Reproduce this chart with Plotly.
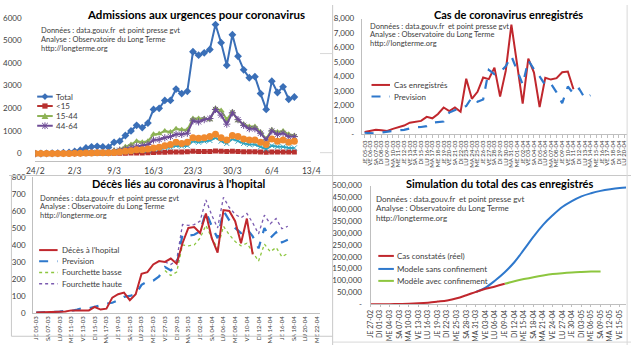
import pandas as pd
import plotly.graph_objects as go

W, H = 640, 350
FONT = "Lato"

def X(px):
    return px / W

def Y(py):
    return 1 - py / H

# ---------------- Data ----------------
# Top-left: Admissions aux urgences (Feb 24 - Apr 10)
tl_dates = pd.date_range("2020-02-24", "2020-04-10").strftime("%Y-%m-%d").tolist()
tl_total = [0, 5, 10, 15, 25, 40,
            50, 100, 150, 250, 300, 320, 300, 280, 500, 550, 800, 1000, 1250, 1150, 1350,
            1950, 2000, 2350, 2350, 2850, 2650, 2750, 4500, 4350, 4450, 4600, 5700, 4900,
            3900, 5250, 4300,
            3700, 3350, 3400, 2650, 1950, 3200, 2700, 2950, 2400, 2500]
tl_u15 = [0, 0, 0, 0, 0, 0,
          0, 5, 5, 5, 10, 10, 10, 10, 15, 15, 20, 25, 30, 30, 35, 50, 55, 60, 65, 75, 75, 80,
          100, 95, 95, 95, 110, 100, 90, 100, 95,
          85, 80, 80, 70, 60, 75, 70, 75, 65, 70]
tl_15_44 = [0, 0, 2, 3, 5, 8,
            10, 20, 30, 50, 60, 70, 70, 65, 150, 180, 300, 400, 550, 500, 550,
            850, 880, 1000, 950, 1100, 1050, 1050, 1550, 1550, 1550, 1500, 2000, 1900, 1500, 1850, 1450,
            1300, 1200, 1200, 950, 650, 1050, 950, 1000, 850, 800]
tl_44_64 = [0, 0, 1, 2, 3, 5,
            8, 15, 20, 35, 45, 50, 50, 45, 100, 150, 200, 280, 330, 350, 400,
            600, 620, 700, 750, 850, 850, 900, 1450, 1400, 1500, 1550, 1950, 1700, 1300, 1800, 1500,
            1250, 1100, 1100, 900, 600, 1000, 850, 900, 750, 750]
tl_65_74 = [0, 0, 0, 1, 2, 3,
            5, 8, 10, 15, 20, 25, 25, 25, 40, 55, 80, 100, 130, 130, 150,
            200, 210, 260, 280, 350, 330, 350, 550, 500, 550, 580, 700, 550, 450, 650, 550,
            450, 400, 400, 300, 200, 350, 300, 300, 250, 250]
tl_75p = [0, 0, 1, 2, 3, 5,
          8, 12, 15, 25, 30, 35, 35, 35, 50, 70, 100, 130, 170, 170, 200,
          250, 280, 350, 400, 500, 450, 500, 700, 680, 700, 750, 850, 700, 600, 800, 750,
          650, 600, 600, 500, 400, 650, 550, 600, 500, 550]

FR_DAYS = ["LU", "MA", "ME", "JE", "VE", "SA", "DI"]

def fr_labels(start, end):
    return [FR_DAYS[d.weekday()] + " " + d.strftime("%d-%m") for d in pd.date_range(start, end)]

# Top-right: Cas enregistrés (categories Mar 5 - Apr 20)
tr_categories = fr_labels("2020-03-05", "2020-04-20")
tr_cases = [150, 250, 300, 280, 230, 370, 500, 600, 800, 850, 920, 1200, 1100, 1400, 1850,
            1600, 1850, 1550, 3840, 2450, 2930, 3920, 3810, 4610, 2600, 4380, 7580,
            4860, 2120, 5230, 4270, 1870, 3910, 3780, 3880, 4290, 4340, 3110]
tr_prev = [100, 60, 50, 120, 200, 230, 270, 300, 400, 480, 500, 560, 800, 860, 880,
           1500, 1700, 1850, 1950, 2550, 2250, 2400, 4450, 4150, 4300, 4700, 5400,
           4400, 3450, 5100, 4500, 4000, 3400, 3500, 2900, 2150, 3300, 2800, 3150, 2500, 2700]
tr_yticks = [0, 1000, 2000, 3000, 4000, 5000, 6000, 7000, 8000]
tr_yticktext = ["-", "1,000", "2,000", "3,000", "4,000", "5,000", "6,000", "7,000", "8,000"]

# Bottom-left: Décès (categories Mar 5 - Apr 22)
bl_categories = fr_labels("2020-03-05", "2020-04-22")
bl_deaths = [2, 3, 5, 5, 8, 8, 15, 15, 15, 15, 35, 20, 25, 90, 110, 120, 75, 110, 230, 240,
             285, 305, 300, 320, 290, 410, 500,
             505, 470, 585, 440, 355, 605, 600, 540, 410, 555, 345]
bl_prev = [2, 3, 5, 5, 8, 12, 12, 20, 30, 28, 35, 45, 55, 60, 75, 95, 100, 110, 165, 185,
           190, 215, 270, 250, 280, 460, 455,
           460, 480, 595, 510, 440, 600, 545, 500, 470, 495, 450, 380, 500, 440, 475, 415, 430]
bl_low = [250, 220, 240, 400, 395,
          400, 440, 515, 440, 380, 510, 460, 420, 395, 410, 360, 305, 405, 360, 385, 330, 350]
bl_high = [300, 285, 310, 520, 515,
           520, 540, 665, 575, 500, 680, 620, 580, 560, 585, 530, 465, 575, 525, 555, 495, 510]
bl_band_start = 22  # index of VE 27-03

# Bottom-right: Simulation
br_real_dates = ["2020-02-27", "2020-03-01", "2020-03-04", "2020-03-07", "2020-03-10",
                 "2020-03-13", "2020-03-16", "2020-03-19", "2020-03-22", "2020-03-25",
                 "2020-03-28", "2020-03-31", "2020-04-03", "2020-04-06", "2020-04-09"]
br_real = [40, 130, 290, 950, 1800, 3700, 6600, 11000, 16000, 25000, 38000, 52000, 65000,
           75000, 86000]
br_sans_dates = ["2020-03-31", "2020-04-03", "2020-04-06", "2020-04-09", "2020-04-12",
                 "2020-04-15", "2020-04-18", "2020-04-21", "2020-04-24", "2020-04-27",
                 "2020-04-30", "2020-05-03", "2020-05-06", "2020-05-09", "2020-05-12",
                 "2020-05-15", "2020-05-17"]
br_sans = [52000, 70000, 100000, 135000, 177000, 230000, 285000, 335000, 375000, 410000,
           435000, 455000, 468000, 478000, 485000, 490000, 492000]
br_avec_dates = ["2020-04-09", "2020-04-12", "2020-04-15", "2020-04-18", "2020-04-21",
                 "2020-04-24", "2020-04-27", "2020-04-30", "2020-05-03", "2020-05-06",
                 "2020-05-09"]
br_avec = [86000, 97000, 106000, 114000, 121000, 127000, 131000, 134000, 136000, 137500, 138500]
br_tickdates = pd.date_range("2020-02-27", "2020-05-15", freq="3D")
br_ticktext = ["JE 27-02", "DI 01-03", "ME 04-03", "SA 07-03", "MA 10-03", "VE 13-03",
               "LU 16-03", "JE 19-03", "DI 22-03", "ME 25-03", "SA 28-03", "MA 31-03",
               "VE 03-04", "LU 06-04", "JE 09-04", "DI 12-04", "ME 15-04", "SA 18-04",
               "MA 21-04", "VE 24-04", "LU 27-04", "JE 30-04", "DI 03-05", "ME 06-05",
               "SA 09-05", "MA 12-05", "VE 15-05"]
br_yticks = list(range(0, 500001, 50000))
br_yticktext = ["-"] + [f"{v:,}" for v in br_yticks[1:]]

# ---------------- Colours ----------------
C_BLUE = "#3A6FB7"
C_RED = "#B8312F"
C_GREEN = "#8DB255"
C_PURPLE = "#6E4C96"
C_AQUA = "#2FA3C0"
C_ORANGE = "#F08A2E"
C_LRED = "#C0272D"
C_LBLUE = "#2E78CC"
C_LGREEN = "#8DC63F"
C_LPURPLE = "#7B5BB0"

fig = go.Figure()

# Top-left traces
def tl_trace(y, color, symbol, size, name, open_marker=False):
    mk = dict(symbol=symbol, size=size, color=color)
    if open_marker:
        mk["line"] = dict(color=color, width=1)
    fig.add_trace(go.Scatter(x=tl_dates, y=y, mode="lines+markers", name=name,
                             line=dict(color=color, width=2), marker=mk,
                             xaxis="x", yaxis="y", showlegend=False))

tl_trace(tl_total, C_BLUE, "diamond", 6, "Total")
tl_trace(tl_u15, C_RED, "square", 5, "<15")
tl_trace(tl_15_44, C_GREEN, "triangle-up", 6, "15-44")
tl_trace(tl_44_64, C_PURPLE, "asterisk-open", 6, "44-64", open_marker=True)
tl_trace(tl_65_74, C_AQUA, "x-thin-open", 5, "65-74", open_marker=True)
tl_trace(tl_75p, C_ORANGE, "circle", 7, "75+")

# Top-right traces
fig.add_trace(go.Scatter(x=tr_categories[:len(tr_cases)], y=tr_cases, mode="lines",
                         name="Cas enregistrés", line=dict(color=C_LRED, width=2),
                         xaxis="x2", yaxis="y2", showlegend=False))
fig.add_trace(go.Scatter(x=tr_categories[:len(tr_prev)], y=tr_prev, mode="lines",
                         name="Prevision", line=dict(color=C_LBLUE, width=2.2, dash="dash"),
                         xaxis="x2", yaxis="y2", showlegend=False))

# Bottom-left traces
fig.add_trace(go.Scatter(x=bl_categories[bl_band_start:bl_band_start + len(bl_low)], y=bl_low,
                         mode="lines", name="Fourchette basse",
                         line=dict(color=C_LGREEN, width=1.3, dash="dot"),
                         xaxis="x3", yaxis="y3", showlegend=False))
fig.add_trace(go.Scatter(x=bl_categories[bl_band_start:bl_band_start + len(bl_high)], y=bl_high,
                         mode="lines", name="Fourchette haute",
                         line=dict(color=C_LPURPLE, width=1.3, dash="dot"),
                         xaxis="x3", yaxis="y3", showlegend=False))
fig.add_trace(go.Scatter(x=bl_categories[:len(bl_prev)], y=bl_prev, mode="lines",
                         name="Prevision", line=dict(color=C_LBLUE, width=2.2, dash="dash"),
                         xaxis="x3", yaxis="y3", showlegend=False))
fig.add_trace(go.Scatter(x=bl_categories[:len(bl_deaths)], y=bl_deaths, mode="lines",
                         name="Décès à l'hopital", line=dict(color=C_LRED, width=2),
                         xaxis="x3", yaxis="y3", showlegend=False))

# Bottom-right traces
fig.add_trace(go.Scatter(x=br_sans_dates, y=br_sans, mode="lines", line_shape="spline",
                         name="Modele sans confinement", line=dict(color=C_LBLUE, width=2),
                         xaxis="x4", yaxis="y4", showlegend=False))
fig.add_trace(go.Scatter(x=br_avec_dates, y=br_avec, mode="lines", line_shape="spline",
                         name="Modèle avec confinement", line=dict(color=C_LGREEN, width=2),
                         xaxis="x4", yaxis="y4", showlegend=False))
fig.add_trace(go.Scatter(x=br_real_dates, y=br_real, mode="lines", line_shape="spline",
                         name="Cas constatés (réel)", line=dict(color=C_LRED, width=2),
                         xaxis="x4", yaxis="y4", showlegend=False))

AX_LINE = "#BFBFBF"
TICKFONT = dict(family=FONT, size=8, color="#404040")
hidden_tick = dict(ticks="outside", tickcolor="rgba(0,0,0,0)")

fig.update_layout(
    width=W, height=H, margin=dict(l=0, r=0, t=0, b=0),
    paper_bgcolor="white", plot_bgcolor="rgba(0,0,0,0)",
    font=dict(family=FONT, color="#404040"),
    xaxis=dict(domain=[X(27), X(311)], anchor="y", type="date",
               range=["2020-02-24", "2020-04-13"],
               tickvals=pd.date_range("2020-02-24", "2020-04-13", freq="7D"),
               tickformat="%-d/%-m", showgrid=False, zeroline=False, showline=True,
               linecolor=AX_LINE, ticks="outside", ticklen=1, tickcolor="rgba(0,0,0,0)",
               tickfont=dict(family=FONT, size=8.5, color="#404040")),
    yaxis=dict(domain=[Y(161), Y(12)], anchor="x", range=[-345, 6050],
               tickvals=[0, 1000, 2000, 3000, 4000, 5000, 6000], showgrid=False,
               zeroline=False, showline=False, ticklen=11, tickfont=TICKFONT, **hidden_tick),
    xaxis2=dict(domain=[X(363), X(636)], anchor="y2", type="category",
                categoryorder="array", categoryarray=tr_categories,
                range=[-0.5, len(tr_categories) - 0.5], tickangle=-90,
                tickmode="array", tickvals=tr_categories, ticktext=tr_categories,
                tickfont=dict(family=FONT, size=6, color="#404040"),
                showgrid=False, zeroline=False, showline=True, linecolor=AX_LINE,
                ticks="outside", ticklen=3, tickcolor=AX_LINE),
    yaxis2=dict(domain=[Y(133), Y(14)], anchor="x2", range=[0, 8000], tickvals=tr_yticks,
                ticktext=tr_yticktext, showgrid=False, zeroline=False, showline=True,
                linecolor=AX_LINE, ticklen=5, tickfont=TICKFONT, **hidden_tick),
    xaxis3=dict(domain=[X(25), X(320)], anchor="y3", type="category",
                categoryorder="array", categoryarray=bl_categories,
                range=[-0.5, len(bl_categories) - 0.5],
                tickmode="array", tickvals=bl_categories[::2], ticktext=bl_categories[::2],
                tickangle=-90, tickfont=dict(family=FONT, size=6, color="#404040"),
                showgrid=False, zeroline=False, showline=True, linecolor=AX_LINE, ticks=""),
    yaxis3=dict(domain=[Y(317), Y(177)], anchor="x3", range=[0, 800], dtick=100,
                showgrid=False, zeroline=False, showline=True, linecolor=AX_LINE,
                ticklen=5, tickfont=TICKFONT, **hidden_tick),
    xaxis4=dict(domain=[X(372), X(635)], anchor="y4", type="date",
                range=["2020-02-27", "2020-05-17"], tickvals=br_tickdates,
                ticktext=br_ticktext, tickangle=-90,
                tickfont=dict(family=FONT, size=7, color="#404040"),
                showgrid=False, zeroline=False, showline=True, linecolor=AX_LINE,
                ticks="outside", ticklen=2, tickcolor=AX_LINE),
    yaxis4=dict(domain=[Y(308), Y(186)], anchor="x4", range=[0, 500000],
                tickvals=br_yticks, ticktext=br_yticktext, showgrid=False, zeroline=False,
                showline=True, linecolor=AX_LINE, ticklen=6, tickfont=TICKFONT, **hidden_tick),
)

annotations = []
shapes = []

def text(px, py, s, size=8, anchor="left", color="#404040"):
    annotations.append(dict(x=X(px), y=Y(py), xref="paper", yref="paper", text=s,
                            showarrow=False, xanchor=anchor, yanchor="middle",
                            font=dict(family=FONT, size=size, color=color)))

def title(px, py, s, size=11.5):
    annotations.append(dict(x=X(px), y=Y(py), xref="paper", yref="paper", text="<b>" + s + "</b>",
                            showarrow=False, xanchor="center", yanchor="middle",
                            font=dict(family=FONT, size=size, color="#000000")))

def hline(x0, x1, y, color, width=2, dash="solid"):
    shapes.append(dict(type="line", xref="paper", yref="paper", x0=X(x0), x1=X(x1),
                       y0=Y(y), y1=Y(y), line=dict(color=color, width=width, dash=dash)))

def vline(x, y0, y1, color, width=1):
    shapes.append(dict(type="line", xref="paper", yref="paper", x0=X(x), x1=X(x),
                       y0=Y(y0), y1=Y(y1), line=dict(color=color, width=width)))

def marker_shape(cx, cy, kind, color):
    s = 2.7
    if kind == "square":
        shapes.append(dict(type="rect", xref="paper", yref="paper", x0=X(cx - s), x1=X(cx + s),
                           y0=Y(cy + s), y1=Y(cy - s), fillcolor=color, line=dict(width=0)))
    elif kind == "diamond":
        p = f"M {X(cx)},{Y(cy - 3.5)} L {X(cx + 3.5)},{Y(cy)} L {X(cx)},{Y(cy + 3.5)} L {X(cx - 3.5)},{Y(cy)} Z"
        shapes.append(dict(type="path", xref="paper", yref="paper", path=p, fillcolor=color,
                           line=dict(width=0)))
    elif kind == "triangle":
        p = f"M {X(cx)},{Y(cy - 3.5)} L {X(cx + 3.5)},{Y(cy + 3)} L {X(cx - 3.5)},{Y(cy + 3)} Z"
        shapes.append(dict(type="path", xref="paper", yref="paper", path=p, fillcolor=color,
                           line=dict(width=0)))
    elif kind == "star":
        for dx, dy in [(3, 3), (3, -3)]:
            shapes.append(dict(type="line", xref="paper", yref="paper", x0=X(cx - dx), x1=X(cx + dx),
                               y0=Y(cy - dy), y1=Y(cy + dy), line=dict(color=color, width=1)))
        vline(cx, cy - 3.5, cy + 3.5, color)

# Titles
title(192, 10, "Admissions aux urgences pour coronavirus")
title(514, 10, "Cas de coronavirus enregistrés", size=11)
title(175, 183.5, "Décès liés au coronavirus à l'hopital", size=11)
title(505, 183.5, "Simulation du total des cas enregistrés", size=11)

# Source texts
src = ["Données : data.gouv.fr  et point presse gvt", "Analyse : Observatoire du Long Terme",
       "http://longterme.org"]
for (x0, ys, sz) in [(31, [26, 35.3, 44.7], 7.5), (369, [21.7, 30.7, 39.7], 7.5),
                     (30, [198.8, 207.8, 217], 7.5), (376, [199.5, 209.3, 219.5], 8)]:
    for yy, s in zip(ys, src):
        text(x0, yy, s, size=sz)

# Legends
for (yy, col, kind, lab) in [(94.3, C_BLUE, "diamond", "Total"), (104, C_RED, "square", "&lt;15"),
                             (114.3, C_GREEN, "triangle", "15-44"),
                             (124.3, C_PURPLE, "star", "44-64")]:
    hline(29, 45, yy, col, 2)
    marker_shape(37, yy, kind, col)
    text(46, yy, lab, size=8)

for (yy, col, dash, lab) in [(82.3, C_LRED, "solid", "Cas enregistrés"),
                             (94.3, C_LBLUE, "dash", "Prevision")]:
    hline(373, 392, yy, col, 2, dash)
    text(394, yy, lab, size=8)

for (yy, col, dash, lab) in [(252.3, C_LRED, "solid", "Décès à l'hopital"),
                             (263.7, C_LBLUE, "dash", "Prevision"),
                             (275.3, C_LGREEN, "dot", "Fourchette basse"),
                             (287, C_LPURPLE, "dot", "Fourchette haute")]:
    hline(31, 50, yy, col, 2 if dash != "dot" else 1.5, dash)
    text(52, yy, lab, size=8)

for (yy, col, lab) in [(258.3, C_LRED, "Cas constatés (réel)"),
                       (271.7, C_LBLUE, "Modele sans confinement"),
                       (284, C_LGREEN, "Modèle avec confinement")]:
    hline(380, 396, yy, col, 2)
    text(397, yy, lab, size=8)

# Spreadsheet frames
FRAME = "#C8C8C8"
hline(0, 640, 175.5, FRAME, 1)
vline(333, 0, 350, FRAME)
vline(636, 0, 350, "#D8D8D8")
vline(2.5, 176, 341, FRAME)
hline(2.5, 333, 341, FRAME, 1)
hline(333, 640, 347, "#D8D8D8", 1)
hline(320, 333, 50, "#D8D8D8", 1)
hline(320, 333, 152, "#D8D8D8", 1)

fig.update_layout(annotations=annotations, shapes=shapes)
fig.write_html("out.html")
